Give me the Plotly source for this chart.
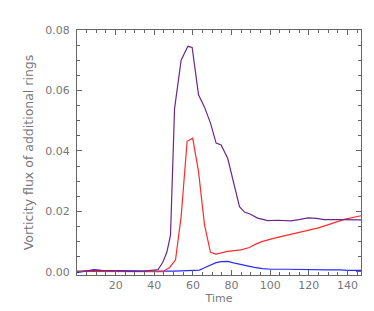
import plotly.graph_objects as go

# Purple series
t_purple = [0, 5, 10, 15, 20, 25, 30, 35, 40, 42, 44.4, 46.5, 48.4, 50.5, 53.9, 57.4, 59.6, 62.9, 66, 69.1, 72, 74.6, 78,
            80.5, 84.1, 86.7, 89.8, 93.5, 98.7, 104, 110.7, 115, 119.4, 124, 128, 136.6, 147]
v_purple = [0.0002, 0.0004, 0.0005, 0.0004, 0.0003, 0.0003, 0.0002, 0.0003, 0.0005, 0.0008, 0.0032, 0.0065, 0.0122, 0.054,
            0.070, 0.0746, 0.0742, 0.0586, 0.0545, 0.0492, 0.0426, 0.042, 0.0376, 0.031, 0.0216, 0.0198, 0.0191,
            0.0178, 0.0170, 0.0171, 0.0169, 0.0173, 0.0179, 0.0177, 0.0173, 0.0173, 0.0172]

# Red series
t_red = [0, 10, 20, 30, 40, 44.4, 48, 51, 53.9, 57, 59.9, 62.9, 66, 69.1, 72, 78, 84.9, 89.2, 92.5, 96.1, 102.2,
         109, 117.7, 124.5, 131.4, 138.3, 147]
v_red = [0.0002, 0.0002, 0.0001, 0.0, 0.0, 0.0001, 0.0015, 0.004, 0.0183, 0.0432, 0.0442, 0.0332, 0.0156, 0.0065,
         0.0059, 0.0068, 0.0073, 0.0081, 0.0092, 0.0101, 0.0112, 0.0122, 0.0134, 0.0145, 0.0159, 0.0174, 0.0186]

# Blue series
t_blue = [0, 4, 8.8, 12.6, 20, 30, 40, 50.5, 57.4, 63.4, 66, 69.4, 72, 74.6, 78, 81, 84.9, 88, 91.8, 96, 100.4, 109,
          119.4, 129.7, 136.6, 140, 147]
v_blue = [-0.0002, 0.0003, 0.0008, 0.0005, 0.0004, 0.0003, 0.0003, 0.0003, 0.0004, 0.0006, 0.0014, 0.0025, 0.0031,
          0.0034, 0.0035, 0.0030, 0.0024, 0.0019, 0.0015, 0.0011, 0.0009, 0.0009, 0.0007, 0.0007, 0.0007, 0.0005, 0.0005]

x_ticks = [20, 40, 60, 80, 100, 120, 140]
y_ticks = [0.0, 0.02, 0.04, 0.06, 0.08]

fig = go.Figure()
fig.add_trace(go.Scatter(x=t_blue, y=v_blue, mode="lines", line=dict(color="#2a2aff", width=1.2)))
fig.add_trace(go.Scatter(x=t_red, y=v_red, mode="lines", line=dict(color="#ff2a2a", width=1.2)))
fig.add_trace(go.Scatter(x=t_purple, y=v_purple, mode="lines", line=dict(color="#6a2888", width=1.2)))

axis_common = dict(
    showgrid=False, zeroline=False, showline=True, linecolor="#666", linewidth=1,
    ticks="inside", ticklen=5, tickcolor="#666", mirror="allticks",
    tickfont=dict(family="DejaVu Sans", size=11, color="#777"),
)

fig.update_layout(
    width=374, height=311,
    margin=dict(l=69, r=21, t=22, b=44),
    paper_bgcolor="white", plot_bgcolor="white",
    showlegend=False,
    font=dict(family="DejaVu Sans", size=11, color="#777"),
    xaxis=dict(range=[0, 147], tickvals=x_ticks, ticktext=[str(v) for v in x_ticks],
               minor=dict(dtick=5, tick0=0, ticks="inside", ticklen=3, tickcolor="#666"),
               title=dict(text="Time", standoff=0, font=dict(size=11, color="#777")),
               **axis_common),
    yaxis=dict(range=[-0.001, 0.08], tickvals=y_ticks, ticktext=["%.2f" % v for v in y_ticks],
               ticklabelstandoff=4,
               minor=dict(dtick=0.005, tick0=0, ticks="inside", ticklen=3, tickcolor="#666"),
               title=dict(text="Vorticity flux of additional rings", standoff=8,
                          font=dict(size=12.5, color="#777")),
               **axis_common),
)

fig.write_html("out.html")
